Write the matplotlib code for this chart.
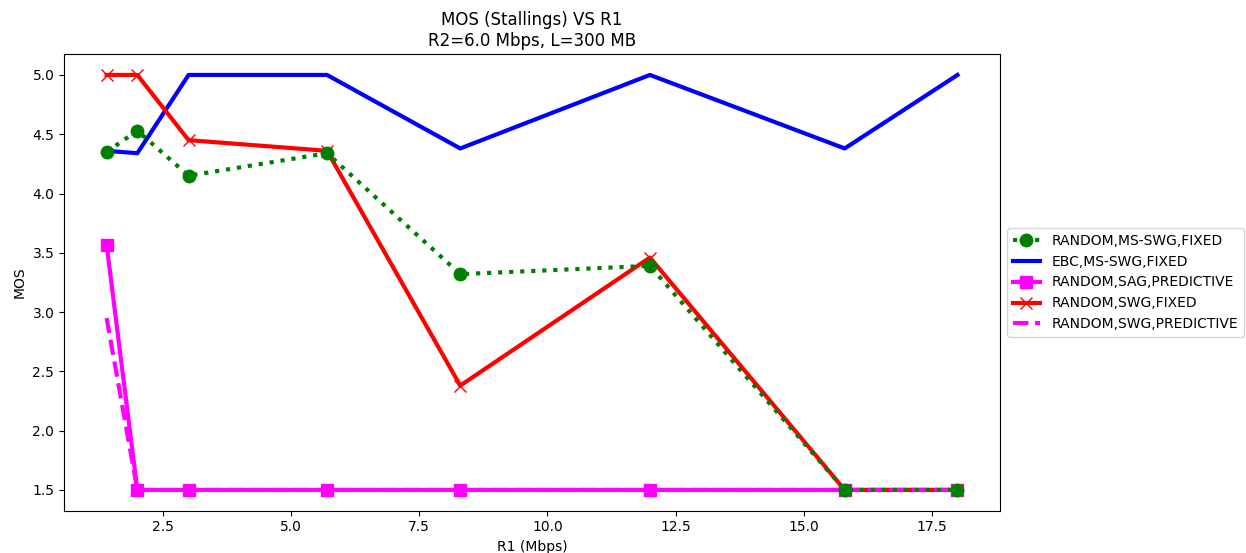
import matplotlib
matplotlib.use("Agg")
import matplotlib.pyplot as plt

# R1 values (Mbps)
r1 = [1.4, 2.0, 3.0, 5.7, 8.3, 12.0, 15.8, 18.0]

mos_random_msswg_fixed = [4.35, 4.53, 4.15, 4.34, 3.32, 3.39, 1.5, 1.5]
mos_ebc_msswg_fixed = [4.36, 4.34, 5.0, 5.0, 4.38, 5.0, 4.38, 5.0]
mos_random_sag_predictive = [3.57, 1.5, 1.5, 1.5, 1.5, 1.5, 1.5, 1.5]
mos_random_swg_fixed = [5.0, 5.0, 4.45, 4.36, 2.38, 3.46, 1.5, 1.5]
mos_random_swg_predictive = [2.95, 1.5, 1.5, 1.5, 1.5, 1.5, 1.5, 1.5]

fig = plt.figure(figsize=(12.46, 5.53), dpi=100)
ax = fig.add_axes([0.0514, 0.0765, 0.7512, 0.8255])

ax.plot(r1, mos_random_msswg_fixed, color='green', linestyle=':', linewidth=3,
        marker='o', markersize=9, label='RANDOM,MS-SWG,FIXED', zorder=4)
ax.plot(r1, mos_ebc_msswg_fixed, color='blue', linewidth=3,
        label='EBC,MS-SWG,FIXED')
ax.plot(r1, mos_random_sag_predictive, color='magenta', linewidth=3,
        marker='s', markersize=9, label='RANDOM,SAG,PREDICTIVE')
ax.plot(r1, mos_random_swg_fixed, color='red', linewidth=3,
        marker='x', markersize=9, label='RANDOM,SWG,FIXED')
ax.plot(r1, mos_random_swg_predictive, color='magenta', linestyle='--', linewidth=3,
        label='RANDOM,SWG,PREDICTIVE')

ax.set_title('MOS (Stallings) VS R1\nR2=6.0 Mbps, L=300 MB')
ax.set_xlabel('R1 (Mbps)')
ax.set_ylabel('MOS')
ax.legend(loc='center left', bbox_to_anchor=(1, 0.5))

fig.savefig('out.png', dpi=100)
